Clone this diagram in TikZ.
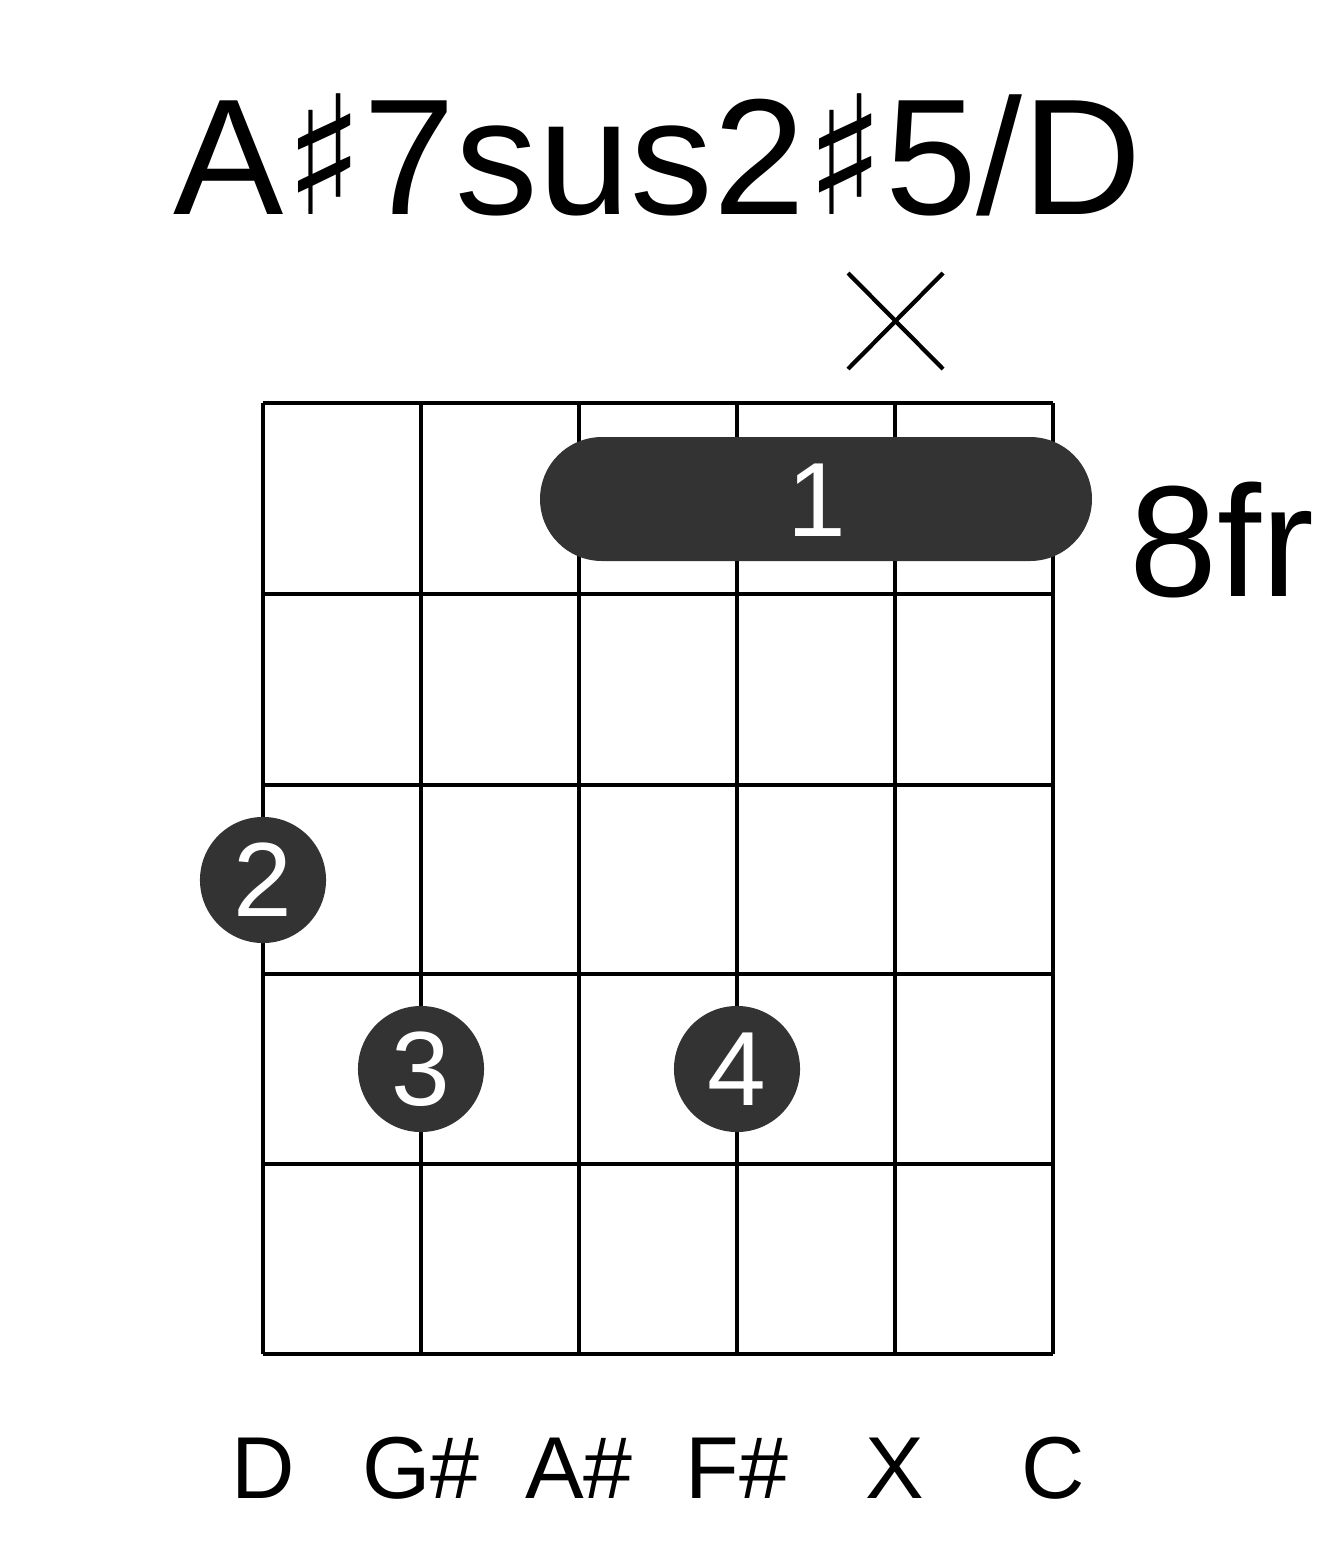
\documentclass[tikz,border=0pt]{standalone}
\usepackage{fontspec}
\setmainfont{Liberation Sans}
\newfontfamily\symf{DejaVu Sans}
\definecolor{dot}{HTML}{333333}
\begin{document}
\begin{tikzpicture}[x=0.01cm,y=-0.01cm,
  grid/.style={line width=1.2pt,black},
  finger/.style={circle,fill=dot,minimum size=1.26cm,inner sep=0pt,text=white,font=\fontsize{30}{30}\selectfont},
  lab/.style={font=\fontsize{25}{25}\selectfont}]
\useasboundingbox (0,0) rectangle (1317,1551);
\node[font=\fontsize{47}{47}\selectfont] (title) at (658,155) {A{\symf\fontsize{47}{47}\selectfont ♯}7sus2{\symf\fontsize{47}{47}\selectfont ♯}5/D};
\foreach \x in {263,421,579,737,895,1053} \draw[grid] (\x,403) -- (\x,1354);
\foreach \y in {403,594,785,974,1164,1354} \draw[grid] (263,\y) -- (1053,\y);
\draw[grid] (848,273) -- (943,369) (943,273) -- (848,369);
\fill[dot,rounded corners=0.62cm] (540,437) rectangle (1092,561);
\node[text=white,font=\fontsize{30}{30}\selectfont] (f1) at (817,500) {1};
\node[font=\fontsize{45}{45}\selectfont] (fr) at (1222,540) {8fr};
\node[finger] (f2) at (263,880) {2};
\node[finger] (f3) at (421,1069) {3};
\node[finger] (f4) at (737,1069) {4};
\foreach \x/\t [count=\i] in {263/D,421/G\#,579/A\#,737/F\#,895/X,1053/C}
  \node[lab] (n\i) at (\x,1468) {\t};
\end{tikzpicture}
\end{document}
